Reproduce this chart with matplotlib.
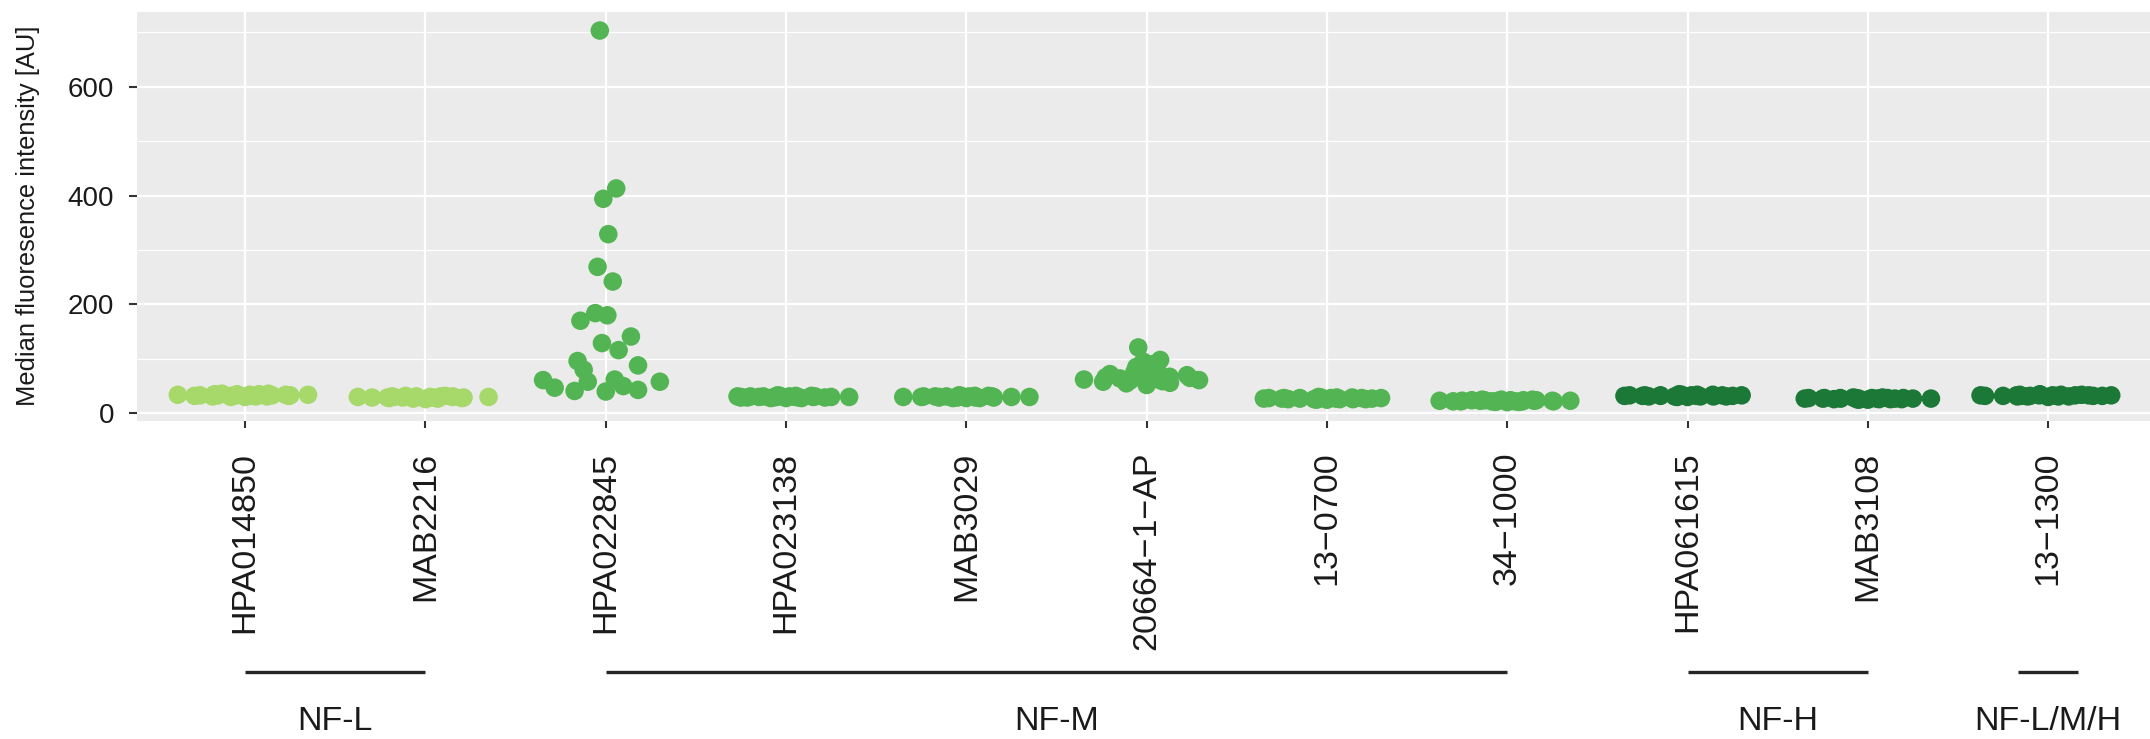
import numpy as np
import matplotlib
matplotlib.use('Agg')
import matplotlib.pyplot as plt

plt.rcParams['font.family'] = ['Liberation Sans', 'DejaVu Sans']

# antibodies on the x axis and the neurofilament target each one binds
antibodies = ['HPA014850', 'MAB2216', 'HPA022845', 'HPA023138', 'MAB3029',
              '20664\u22121\u2212AP', '13\u22120700', '34\u22121000',
              'HPA061615', 'MAB3108', '13\u22121300']
targets = ['NF-L', 'NF-L', 'NF-M', 'NF-M', 'NF-M', 'NF-M', 'NF-M', 'NF-M',
           'NF-H', 'NF-H', 'NF-L/M/H']
target_colors = {'NF-L': '#A6D96A', 'NF-M': '#52B452',
                 'NF-H': '#1B7837', 'NF-L/M/H': '#1B7837'}

# median fluorescence intensity per sample
hpa014850 = [33, 35, 31, 34, 36, 32, 33, 30, 34, 35, 32, 31,
             33, 36, 34, 32, 30, 33, 35, 34, 31, 33, 32, 34]
mab2216 = [30, 28, 31, 29, 27, 30, 32, 29, 28, 31, 30, 26,
           29, 31, 28, 30, 27, 29, 32, 30, 28, 31, 29, 30]
hpa022845 = [703, 413, 394, 329, 269, 242, 184, 180, 170, 141, 129, 116,
             96, 88, 80, 61, 58, 58, 62, 47, 50, 40, 41, 43]
hpa023138 = [31, 29, 30, 32, 28, 30, 31, 29, 33, 30, 28, 31,
             30, 29, 32, 30, 31, 28, 30, 29, 31, 30, 32, 29]
mab3029 = [30, 31, 29, 32, 30, 28, 31, 30, 29, 33, 30, 31,
           28, 30, 32, 29, 30, 31, 29, 30, 28, 32, 30, 31]
ab20664 = [121, 98, 95, 90, 85, 80, 76, 74, 72, 70, 68, 67,
           66, 65, 64, 63, 62, 61, 60, 59, 58, 56, 55, 52]
ab13_0700 = [27, 28, 26, 29, 27, 25, 28, 27, 26, 29, 28, 27,
             26, 28, 30, 27, 26, 28, 27, 29, 25, 27, 28, 26]
ab34_1000 = [23, 21, 24, 22, 23, 25, 22, 24, 23, 21, 24, 22,
             23, 25, 22, 24, 23, 20.5, 24, 22, 23, 25, 22, 23]
hpa061615 = [32, 33, 31, 34, 32, 30, 33, 32, 31, 34, 33, 32,
             31, 33, 35, 32, 31, 33, 32, 34, 30, 32, 33, 31]
mab3108 = [27, 28, 26, 27, 29, 26, 28, 27, 25, 28, 27, 26,
           28, 27, 29, 26, 27, 28, 26, 27, 28, 25, 27, 28]
ab13_1300 = [32, 33, 31, 34, 32, 33, 35, 32, 31, 33, 34, 32,
             33, 31, 32, 34, 33, 32, 30, 33, 34, 32, 33, 31]

values = [hpa014850, mab2216, hpa022845, hpa023138, mab3029, ab20664,
          ab13_0700, ab34_1000, hpa061615, mab3108, ab13_1300]


def van_der_corput(n, base=2):
    seq = []
    for i in range(1, n + 1):
        q, denom, k = 0.0, 1.0, i
        while k > 0:
            denom *= base
            k, r = divmod(k, base)
            q += r / denom
        seq.append(q)
    return np.array(seq)


def quasirandom_offsets(y, width=0.4, adjust=0.5):
    # same idea as ggbeeswarm::geom_quasirandom
    y = np.asarray(y, dtype=float)
    n = len(y)
    sd = y.std(ddof=1)
    q75, q25 = np.percentile(y, [75, 25])
    lo = min(sd, (q75 - q25) / 1.34)
    if lo == 0:
        lo = sd if sd > 0 else 1.0
    bw = 0.9 * lo * n ** -0.2 * adjust
    grid = np.linspace(y.min() - 3 * bw, y.max() + 3 * bw, 512)
    dens = np.exp(-0.5 * ((grid[:, None] - y[None, :]) / bw) ** 2).sum(axis=1)
    dens = dens / dens.max()
    d = np.interp(y, grid, dens)
    ranks = np.argsort(np.argsort(y, kind='stable'), kind='stable')
    return d * (van_der_corput(n)[ranks] - 0.5) * 2 * width


W, H = 2150, 739
fig = plt.figure(figsize=(W / 100, H / 100), dpi=100)
ax = fig.add_axes([137 / W, 1 - 420.7 / H, (W - 137) / W, (420.7 - 12.3) / H])
ax.set_facecolor('#EBEBEB')

for i, (vals, tgt) in enumerate(zip(values, targets)):
    xs = i + quasirandom_offsets(vals)
    ax.scatter(xs, vals, s=178, color=target_colors[tgt], edgecolors='none',
               zorder=3)

ax.set_xlim(-0.6, 10.565)
ax.set_ylim(-13.6, 736.5)
ax.set_xticks(range(len(antibodies)))
ax.set_xticklabels(antibodies, rotation=90, ha='center', va='top')
ax.set_yticks([0, 200, 400, 600])
ax.set_yticks([100, 300, 500, 700], minor=True)
ax.grid(which='major', color='white', linewidth=1.6)
ax.grid(which='minor', axis='y', color='white', linewidth=0.9)
ax.set_axisbelow(True)
for sp in ax.spines.values():
    sp.set_visible(False)
ax.tick_params(axis='y', which='major', length=5.8, width=1.5, color='#333333',
               labelsize=20, pad=10.5, labelcolor='#1a1a1a')
ax.tick_params(axis='x', which='major', length=5.2, width=1.5, color='#333333',
               labelsize=24.5, pad=17, labelcolor='#1a1a1a')
ax.tick_params(axis='y', which='minor', length=0)

fig.text(28.5 / W, 1 - 216 / H, 'Median fluoresence intensity [AU]',
         rotation=90, ha='center', va='center', fontsize=18.4, color='#1a1a1a')

# brackets and labels for the neurofilament groups
trans = ax.get_xaxis_transform()
groups = []
for i, tgt in enumerate(targets):
    if groups and groups[-1][0] == tgt:
        groups[-1][2] = i
    else:
        groups.append([tgt, i, i])
for tgt, first, last in groups:
    x0, x1 = first, last
    if first == last:
        x0, x1 = first - 0.167, last + 0.167
    ax.plot([x0, x1], [-0.6153, -0.6153], transform=trans, clip_on=False,
            color='#262626', linewidth=2.4, solid_capstyle='butt')
    ax.text((first + last) / 2, -0.7576, tgt, transform=trans, ha='center',
            va='baseline', fontsize=24.5, color='#1a1a1a')

fig.savefig('out.png', dpi=100)
